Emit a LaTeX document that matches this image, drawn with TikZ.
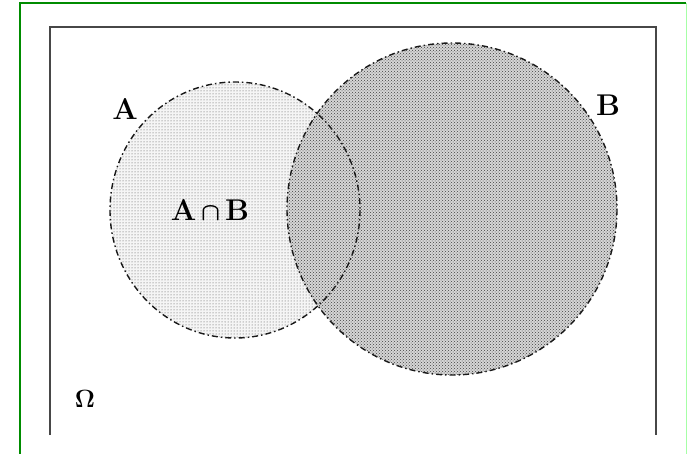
\documentclass[tikz,border=0pt]{standalone}
\usetikzlibrary{patterns}
\begin{document}
\begin{tikzpicture}[x=1pt,y=-1pt,
  greenline/.style={draw=green!55!black,line width=2pt},
  frameline/.style={draw=black!72,line width=2.2pt},
  setedge/.style={draw=black!90,line width=1.4pt,dash pattern=on 6pt off 3pt on 1.5pt off 3pt},
  setlabel/.style={inner sep=0pt,font=\fontsize{30}{30}\selectfont\bfseries\boldmath},
  ]
\useasboundingbox (0,0) rectangle (687,454);
% page border (green)
\draw[greenline] (20,454) -- (20,3) -- (686,3);
\draw[draw=green!35,line width=1pt] (686.5,3) -- (686.5,454);
% universe frame
\draw[frameline] (50,435) -- (50,27) -- (656,27) -- (656,435);
% set fills
\fill[black!4] (235,210) ellipse [x radius=125,y radius=128];
\fill[pattern=dots,pattern color=black!70] (235,210) ellipse [x radius=125,y radius=128];
\fill[black!16] (452,209) ellipse [x radius=165,y radius=166];
\fill[pattern=crosshatch dots,pattern color=black!75] (452,209) ellipse [x radius=165,y radius=166];
% set boundaries
\draw[setedge] (235,210) ellipse [x radius=125,y radius=128];
\draw[setedge] (452,209) ellipse [x radius=165,y radius=166];
% labels
\node[setlabel] (labA) at (125,109) {A};
\node[setlabel] (labB) at (608,105) {B};
\node[setlabel] (labAB) at (210,210) {A$\,\cap\,$B};
\node[setlabel] (labO) at (85,399) {$\Omega$};
\end{tikzpicture}
\end{document}
